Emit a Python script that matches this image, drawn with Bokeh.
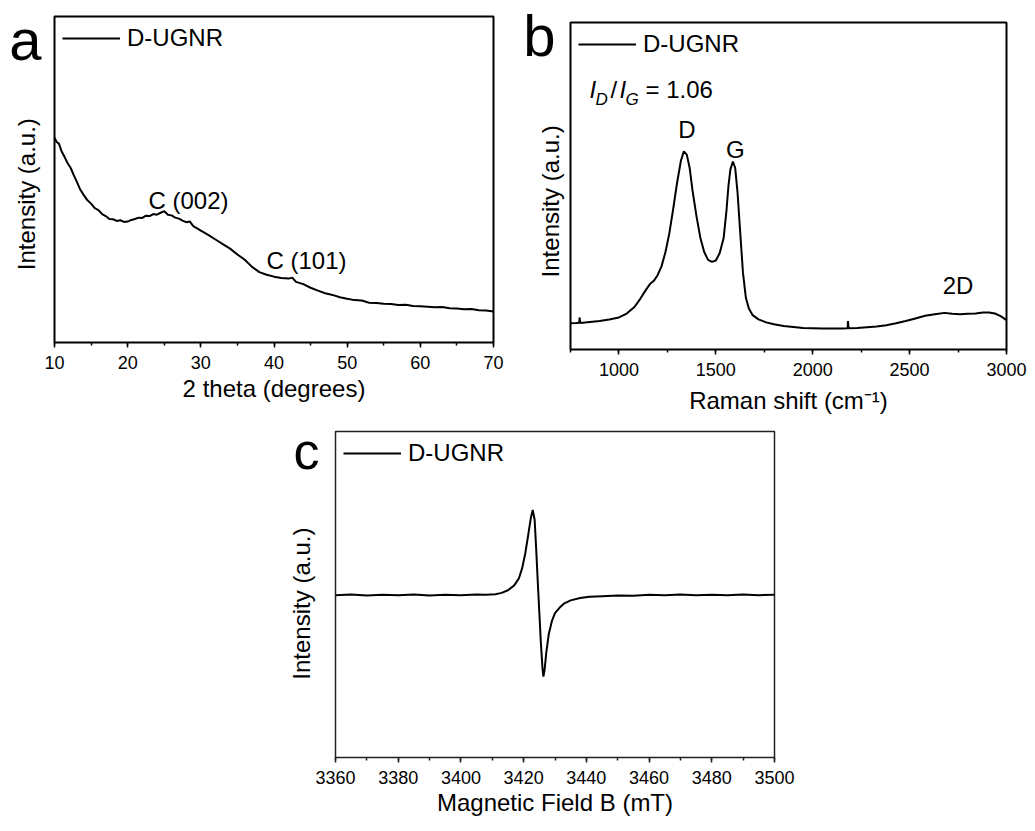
from bokeh.plotting import figure
from bokeh.layouts import column, row, Spacer
from bokeh.models import Range1d, Legend, LegendItem, SingleIntervalTicker, FixedTicker, LinearAxis
from bokeh.core.properties import value
from bokeh.embed import file_html
from bokeh.resources import INLINE

FONT = "Liberation Sans"

# ---------------- data ----------------
# (a) XRD pattern
xrd_2theta = [10.0, 10.3, 10.6, 11.0, 11.4, 11.8, 12.2, 12.6, 13.0, 13.5, 14.0, 14.5, 15.0, 15.5,
              16.0, 16.5, 17.0, 17.5, 18.0, 18.5, 19.0, 19.5, 20.0, 20.5, 21.0, 21.5, 22.0, 22.5,
              23.0, 23.5, 24.0, 24.5, 25.0, 25.5, 26.0, 26.5, 27.0, 27.5, 28.0, 28.5, 29.0, 29.5,
              30.0, 31.0, 32.0, 33.0, 34.0, 35.0, 36.0, 37.0, 38.0, 39.0, 40.0, 41.0, 42.0, 42.5,
              43.0, 44.0, 45.0, 46.0, 47.0, 48.0, 49.0, 50.0, 51.0, 52.0, 53.0, 54.0, 55.0, 56.0,
              57.0, 58.0, 59.0, 60.0, 61.0, 62.0, 63.0, 64.0, 65.0, 66.0, 67.0, 68.0, 69.0, 70.0]
xrd_intensity = [62.8, 61.5, 61.0, 58.5, 56.8, 55.0, 53.6, 51.5, 49.6, 47.0, 45.2, 43.6, 42.6, 41.2,
                 40.6, 39.4, 38.8, 37.9, 37.8, 37.3, 37.5, 37.0, 37.1, 37.6, 37.9, 38.3, 38.2, 38.9,
                 38.8, 39.4, 39.2, 39.8, 40.3, 39.2, 39.0, 38.3, 38.0, 37.4, 36.9, 37.1, 35.6, 35.0,
                 34.3, 33.0, 31.6, 30.2, 28.8, 27.0, 25.4, 23.2, 21.6, 20.8, 20.2, 19.8, 19.6, 19.9,
                 18.6, 17.9, 16.8, 15.9, 15.1, 14.6, 13.9, 13.4, 13.0, 12.9, 12.2, 12.1, 11.9, 11.8,
                 11.5, 11.6, 11.2, 11.1, 11.0, 10.8, 10.9, 10.5, 10.4, 10.2, 10.3, 9.9, 9.8, 9.5]
xrd_peaks = ["C (002)", "C (101)"]
xrd_peak_x = [22.85, 38.97]
xrd_peak_y = [43.6, 25.2]

# (b) Raman spectrum
raman_shift = [750, 780, 795, 797, 800, 850, 900, 950, 1000, 1040, 1080, 1110, 1140, 1160, 1180,
               1200, 1220, 1240, 1260, 1280, 1300, 1320, 1335, 1350, 1365, 1380, 1400, 1420, 1440,
               1460, 1480, 1500, 1520, 1540, 1555, 1565, 1575, 1588, 1600, 1612, 1625, 1640, 1655,
               1670, 1690, 1720, 1760, 1800, 1850, 1900, 1950, 2000, 2050, 2100, 2150, 2180, 2182,
               2185, 2230, 2280, 2330, 2380, 2430, 2480, 2530, 2580, 2630, 2680, 2720, 2760, 2800,
               2840, 2880, 2910, 2940, 2970, 3000]
raman_intensity = [8.0, 8.1, 8.2, 9.8, 8.1, 8.4, 8.7, 9.2, 9.8, 11.0, 13.0, 15.5, 18.3, 20.0, 21.0,
                   22.8, 25.5, 29.8, 35.5, 43.0, 51.0, 57.8, 60.6, 59.6, 55.5, 48.5, 40.8, 34.2, 29.8,
                   27.4, 26.8, 27.2, 29.5, 34.0, 42.5, 50.0, 55.0, 57.5, 55.5, 48.0, 36.5, 23.5, 15.8,
                   12.6, 10.5, 9.2, 8.3, 7.7, 7.2, 6.9, 6.6, 6.5, 6.4, 6.4, 6.4, 6.5, 8.7,
                   6.5, 6.6, 6.8, 7.0, 7.4, 8.0, 8.7, 9.5, 10.3, 10.8, 11.2, 10.9, 10.8, 10.9,
                   11.0, 11.3, 11.3, 11.0, 10.2, 9.0]
raman_bands = ["D", "G", "2D"]
raman_band_x = [1351, 1600, 2750]
raman_band_y = [67.3, 61.3, 19.7]
ratio_value = "1.06"

# (c) EPR spectrum
epr_field = [3360, 3365, 3370, 3375, 3380, 3385, 3390, 3395, 3400, 3405, 3408, 3411, 3413, 3415,
             3417, 3418.5, 3419.5, 3420.5, 3421.5, 3422.3, 3422.9, 3423.5, 3424.0, 3424.5, 3425.0,
             3425.5, 3426.0, 3426.3, 3426.7, 3427.2, 3428.0, 3429.0, 3430.0, 3431.5, 3433.0, 3435,
             3438, 3441, 3445, 3450, 3455, 3460, 3465, 3470, 3475, 3480, 3485, 3490, 3495, 3500]
epr_signal = [49.8, 50.0, 49.7, 49.9, 49.8, 50.0, 49.7, 49.9, 49.8, 50.0, 49.9, 50.1, 50.5, 51.3,
              52.8, 55.0, 58.0, 62.5, 68.5, 73.5, 75.9, 73.0, 64.0, 54.0, 44.5,
              35.0, 27.5, 24.8, 27.0, 32.0, 37.8, 41.8, 44.3, 46.0, 47.3, 48.2,
              48.9, 49.3, 49.5, 49.7, 49.6, 49.9, 49.8, 50.0, 49.8, 49.9, 49.8, 50.0, 49.8, 49.9]

SERIES = "D-UGNR"
YLABEL = "Intensity (a.u.)"


def make_fig(xr, fw, fh, left, right, top, bottom, xticker, xlabel, xlabel_standoff,
             ylabel_pos, ylabel_standoff, letter, letter_pos, letter_standoff, letter_size,
             frame_lw=2.0, frame_color="black"):
    p = figure(frame_width=fw, frame_height=fh, min_border_left=left, min_border_right=right,
               min_border_top=top, min_border_bottom=bottom, x_range=Range1d(*xr),
               y_range=Range1d(0, 100), output_backend="svg", toolbar_location=None)
    p.grid.visible = False
    p.outline_line_color = frame_color
    p.outline_line_width = frame_lw
    p.outline_line_alpha = 1.0
    p.background_fill_color = "white"
    p.border_fill_color = "white"

    xa = p.xaxis[0]
    xa.ticker = xticker
    xa.axis_line_color = None
    xa.major_tick_out = 5
    xa.major_tick_in = 0
    xa.minor_tick_out = 3
    xa.minor_tick_in = 0
    xa.major_tick_line_color = frame_color
    xa.minor_tick_line_color = frame_color
    xa.major_tick_line_width = 1.5
    xa.minor_tick_line_width = 1.5
    xa.major_label_text_font = FONT
    xa.major_label_text_font_size = "18px"
    xa.major_label_text_color = "black"
    xa.major_label_standoff = 8
    xa.axis_label = xlabel
    xa.axis_label_text_font = FONT
    xa.axis_label_text_font_size = "24px"
    xa.axis_label_text_font_style = "normal"
    xa.axis_label_text_color = "black"
    xa.axis_label_standoff = xlabel_standoff

    # y axis: no ticks; its single label is the rotated "Intensity (a.u.)"
    ya = p.yaxis[0]
    ya.ticker = FixedTicker(ticks=[ylabel_pos])
    ya.major_label_overrides = {ylabel_pos: YLABEL}
    ya.major_label_orientation = "vertical"
    ya.axis_line_color = None
    ya.major_tick_out = 0
    ya.major_tick_in = 0
    ya.minor_tick_out = 0
    ya.minor_tick_in = 0
    ya.major_label_standoff = ylabel_standoff
    ya.major_label_text_font = FONT
    ya.major_label_text_font_size = "24px"
    ya.major_label_text_color = "black"

    # panel letter, drawn as the only label of a second, invisible left axis
    la = LinearAxis(ticker=FixedTicker(ticks=[letter_pos]),
                    major_label_overrides={letter_pos: letter})
    la.axis_line_color = None
    la.major_tick_out = 0
    la.major_tick_in = 0
    la.minor_tick_out = 0
    la.minor_tick_in = 0
    la.major_label_standoff = letter_standoff
    la.major_label_text_font = FONT
    la.major_label_text_font_size = letter_size
    la.major_label_text_color = "black"
    p.add_layout(la, "left")
    return p


def add_legend(p, r):
    lg = Legend(items=[LegendItem(label=SERIES, renderers=[r])], location="top_left",
                padding=8, margin=0, glyph_width=58, glyph_height=20, label_standoff=7,
                label_text_font=FONT, label_text_font_size="24px", label_text_color="black",
                border_line_alpha=0, background_fill_alpha=0, spacing=0)
    p.add_layout(lg)


def add_text(p, xs, ys, ts, align="left", size="24px", style="normal"):
    p.text(x=xs, y=ys, text=ts, text_align=align, text_baseline="middle",
           text_font=value(FONT), text_font_size=value(size), text_font_style=style,
           text_color="black")


# ---------------- panel a ----------------
pa = make_fig((10, 70), 439, 326, 54, 27, 16, 78,
              SingleIntervalTicker(interval=10, num_minor_ticks=2), "2 theta (degrees)", 3,
              45.5, 14, "a", 96.9, -31, "58px")
ra = pa.line(xrd_2theta, xrd_intensity, line_color="black", line_width=2)
add_legend(pa, ra)
add_text(pa, xrd_peak_x, xrd_peak_y, xrd_peaks)

# ---------------- panel b ----------------
pb = make_fig((750, 3000), 436, 327, 50, 29, 22, 71,
              SingleIntervalTicker(interval=500, num_minor_ticks=2), "Raman shift (cm\u207b\u00b9)", 8,
              45.3, 6, "b", 97.6, -21, "58px")
rb = pb.line(raman_shift, raman_intensity, line_color="black", line_width=2)
add_legend(pb, rb)
add_text(pb, raman_band_x, raman_band_y, raman_bands, align="center")
# I_D / I_G = 1.06
add_text(pb, [848, 1003], [79.6, 79.6], ["I", "I"], style="italic")
add_text(pb, [879, 1034], [76.4, 76.4], ["D", "G"], size="17px", style="italic")
add_text(pb, [956], [79.6], ["/"])
add_text(pb, [1137], [79.6], ["= " + ratio_value])

# ---------------- panel c ----------------
pc = make_fig((3360, 3500), 439, 326, 65, 40, 11, 74,
              SingleIntervalTicker(interval=20, num_minor_ticks=2), "Magnetic Field B (mT)", 2,
              47.2, 20, "c", 94.0, -34, "52px", frame_lw=1.5, frame_color="#222222")
rc = pc.line(epr_field, epr_signal, line_color="black", line_width=2)
add_legend(pc, rc)

top_row = row(column(Spacer(width=520, height=0), pa), column(Spacer(width=515, height=0), pb))
layout = column(top_row, row(Spacer(width=270, height=411), pc))

open("out.html", "w").write(file_html(layout, INLINE))
